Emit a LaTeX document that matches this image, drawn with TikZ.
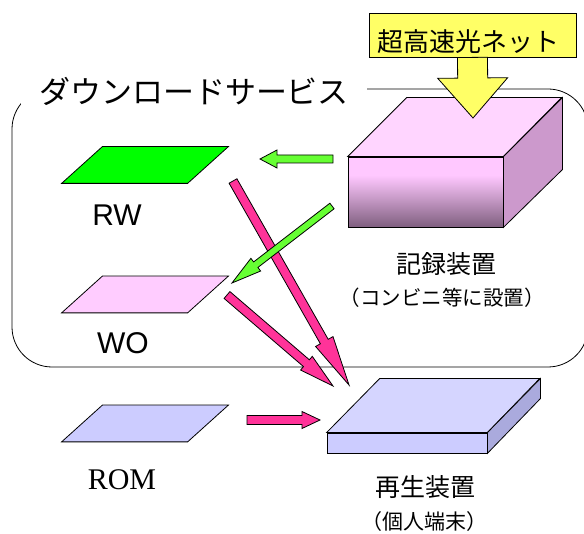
\documentclass[tikz,border=0pt]{standalone}
\usepackage{fontspec}
\setmainfont{Liberation Sans}
\newfontfamily\jpfont{Noto Sans CJK JP}
\newfontfamily\romfont{Liberation Serif}
\usetikzlibrary{calc}
\definecolor{netyellow}{HTML}{FFFF66}
\definecolor{rectop}{HTML}{FFD5FF}
\definecolor{recpink}{HTML}{FFC8FF}
\definecolor{recdark}{HTML}{7F5F7F}
\definecolor{recside}{HTML}{CC99CC}
\definecolor{playtop}{HTML}{D5D5FF}
\definecolor{playfront}{HTML}{CCCCFF}
\definecolor{playside}{HTML}{AAAADD}
\definecolor{rwgreen}{HTML}{00FF00}
\definecolor{wopink}{HTML}{FFCCFF}
\definecolor{romblue}{HTML}{CCCCFF}
\definecolor{arrowgreen}{HTML}{66FF33}
\definecolor{arrowpink}{HTML}{FF3399}
\pgfdeclareverticalshading{recshade}{100bp}{color(0bp)=(recdark); color(25bp)=(recdark);
  color(45bp)=(recdark!45!recpink); color(62bp)=(recpink); color(100bp)=(recpink)}
\newcommand\blockarrow[6]{%
  \coordinate (ba) at ($(#3)!#6!(#2)$);
  \filldraw[#1] ($(#2)!#4!90:(#3)$) -- ($(ba)!#4!90:(#3)$) -- ($(ba)!#5!90:(#3)$) -- (#3)
    -- ($(ba)!#5!-90:(#3)$) -- ($(ba)!#4!-90:(#3)$) -- ($(#2)!#4!-90:(#3)$) -- cycle;}

\begin{document}
\begin{tikzpicture}[x=1pt, y=-1pt, line width=0.8pt,
  jptext/.style={font=\jpfont\fontsize{#1}{#1}\selectfont, inner sep=0pt},
  disk/.style={minimum width=166pt, minimum height=36pt, inner sep=0pt},
  media/.style={font=\fontsize{30}{30}\selectfont, inner sep=0pt}]
  \useasboundingbox (0,0) rectangle (584,534);

  \draw[rounded corners=40pt] (12,89) rectangle (588,367);
  \node[jptext=31, fill=white, inner xsep=18pt, inner ysep=2pt] (dl) at (194,91) {ダウンロードサービス};

  \node[draw, shade, shading=recshade, minimum width=155pt, minimum height=70pt, inner sep=0pt] (rec) at (425.5,192) {};
  \filldraw[fill=rectop] (rec.north west) -- ++(59,-59) -- ++(155,0) -- (rec.north east) -- cycle;
  \filldraw[fill=recside] (rec.north east) -- ++(59,-59) -- ++(0,72) -- (rec.south east) -- cycle;
  \node[jptext=25] (rec1) at (446,264) {記録装置};
  \node[jptext=20.5] (rec2) at (442,298) {（コンビニ等に設置）};

  \node[draw, fill=netyellow, minimum width=207pt, minimum height=44pt, inner sep=0pt] (net) at (472.5,35) {};
  \node[jptext=26] (nettext) at (468,42) {超高速光ネット};
  \coordinate (netdown) at (473,118);
  \blockarrow{fill=netyellow}{net.south}{netdown}{15pt}{35pt}{40pt}

  \node[draw, fill=playfront, minimum width=160pt, minimum height=20pt, inner sep=0pt] (play) at (407,443) {};
  \filldraw[fill=playtop] (play.north west) -- ++(53,-54) -- ++(160,0) -- (play.north east) -- cycle;
  \filldraw[fill=playside] (play.north east) -- ++(53,-54) -- ++(0,20) -- (play.south east) -- cycle;
  \node[jptext=25] (play1) at (425,487) {再生装置};
  \node[jptext=21] (play2) at (424,522) {（個人端末）};

  \node[disk] (rw) at (145,165) {};
  \node[disk] (wo) at (145,294.5) {};
  \node[disk] (rom) at (145,423.5) {};
  \foreach \d/\c in {rw/rwgreen, wo/wopink, rom/romblue}
    \filldraw[fill=\c] (\d.south west) -- ++(126,0) -- (\d.north east) -- ++(-126,0) -- cycle;
  \node[media] (rwlabel) at (117,215) {RW};
  \node[media] (wolabel) at (123,343) {WO};
  \node[media, font=\romfont\fontsize{30}{30}\selectfont] (romlabel) at (122,480) {ROM};

  \coordinate (pc1) at (233,181);
  \coordinate (pc2) at (349,385);
  \coordinate (pd1) at (227,295);
  \coordinate (pd2) at (333,386);
  \coordinate (pe1) at (247,420);
  \coordinate (pe2) at (320,420);
  \blockarrow{fill=arrowpink}{pc1}{pc2}{4.5pt}{10pt}{50pt}
  \blockarrow{fill=arrowpink}{pd1}{pd2}{4.5pt}{9pt}{35pt}
  \blockarrow{fill=arrowpink}{pe1}{pe2}{4.5pt}{8.5pt}{18pt}

  \coordinate (ga1) at (333,159);
  \coordinate (ga2) at (260,159);
  \coordinate (gb1) at (332,206);
  \coordinate (gb2) at (232,283);
  \blockarrow{fill=arrowgreen}{ga1}{ga2}{4pt}{9pt}{17pt}
  \blockarrow{fill=arrowgreen}{gb1}{gb2}{3.5pt}{8pt}{30pt}
\end{tikzpicture}
\end{document}
